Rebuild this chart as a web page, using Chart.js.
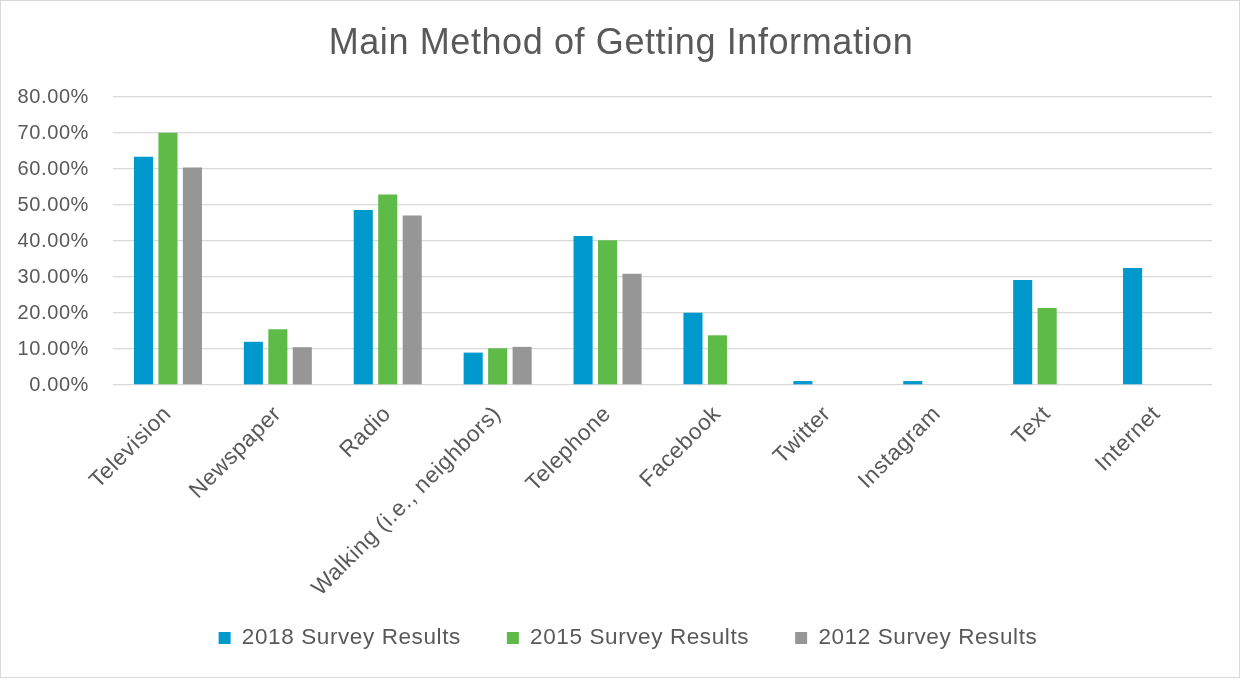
<!DOCTYPE html>
<html>
<head>
<meta charset="utf-8">
<script src="https://cdn.jsdelivr.net/npm/chart.js@4.4.1/dist/chart.umd.min.js"></script>
<style>
  html, body { margin: 0; padding: 0; background: #ffffff; }
  #wrap { width: 1241px; height: 679px; }
</style>
</head>
<body>
<div id="wrap"><canvas id="c" width="1241" height="679"></canvas></div>
<script>
const categories = ["Television", "Newspaper", "Radio", "Walking (i.e., neighbors)", "Telephone", "Facebook", "Twitter", "Instagram", "Text", "Internet"];
const results2018 = [63.4, 12.0, 48.6, 9.0, 41.4, 20.1, 1.1, 1.1, 29.2, 32.5];
const results2015 = [70.1, 15.5, 52.9, 10.2, 40.2, 13.8, null, null, 21.4, null];
const results2012 = [60.4, 10.5, 47.1, 10.6, 30.9, null, null, null, null, null];
const seriesNames = ["2018 Survey Results", "2015 Survey Results", "2012 Survey Results"];
const yTicks = [0, 10, 20, 30, 40, 50, 60, 70, 80];

const TEXT = '#595959';
const FONT = '"Liberation Sans", Arial, sans-serif';
const SPACING = '0.6px';

const spacingPlugin = {
  id: 'spacing',
  beforeUpdate(chart) { chart.ctx.letterSpacing = SPACING; },
  beforeLayout(chart) { chart.ctx.letterSpacing = SPACING; },
  afterLayout(chart) {
    // centre title and legend on the full canvas like the original
    if (chart.titleBlock) { chart.titleBlock.left += 15; chart.titleBlock.right += 15; }
    if (chart.legend) { chart.legend.left += 22; chart.legend.right += 22; }
  },
  beforeDraw(chart) {
    const ctx = chart.ctx;
    ctx.letterSpacing = SPACING;
    ctx.save();
    ctx.fillStyle = '#ffffff';
    ctx.fillRect(0, 0, chart.width, chart.height);
    ctx.strokeStyle = '#d9d9d9';
    ctx.lineWidth = 1;
    ctx.strokeRect(0.5, 0.5, chart.width - 2, chart.height - 2);
    ctx.restore();
  }
};

new Chart(document.getElementById('c'), {
  type: 'bar',
  data: {
    labels: categories,
    datasets: [
      { label: seriesNames[0], data: results2018, backgroundColor: '#0099CE' },
      { label: seriesNames[1], data: results2015, backgroundColor: '#5EBB48' },
      { label: seriesNames[2], data: results2012, backgroundColor: '#969696' }
    ]
  },
  options: {
    responsive: false,
    devicePixelRatio: 1,
    animation: false,
    datasets: { bar: { categoryPercentage: 0.668, barPercentage: 0.78 } },
    layout: { padding: { left: 0, right: 29, top: 0, bottom: 19.75 } },
    plugins: {
      title: {
        display: true,
        text: 'Main Method of Getting Information',
        color: TEXT,
        font: { family: FONT, size: 36, weight: 'normal' },
        padding: { top: 22, bottom: 31.8 }
      },
      legend: {
        position: 'bottom',
        labels: {
          color: TEXT,
          font: { family: FONT, size: 22.5 },
          boxWidth: 12,
          boxHeight: 12,
          padding: 46
        }
      },
      tooltip: { enabled: false }
    },
    scales: {
      x: {
        grid: { display: false },
        border: { display: false },
        ticks: {
          color: TEXT,
          font: { family: FONT, size: 22.5 },
          minRotation: 45,
          maxRotation: 45,
          padding: 8,
          autoSkip: false
        },
        afterFit(scale) {
          scale.height = 195.75;
          scale._computeLabelArea = function () { return undefined; };
        }
      },
      y: {
        min: 0,
        max: 80,
        afterBuildTicks(scale) { scale.ticks = yTicks.map(v => ({ value: v })); },
        grid: { color: '#d9d9d9', lineWidth: 1.3, drawTicks: false },
        border: { display: false },
        ticks: {
          color: TEXT,
          font: { family: FONT, size: 20 },
          padding: 24,
          callback: v => v.toFixed(2) + '%'
        },
        afterFit(scale) { scale.width = 113; }
      }
    }
  },
  plugins: [spacingPlugin]
});
</script>
</body>
</html>
